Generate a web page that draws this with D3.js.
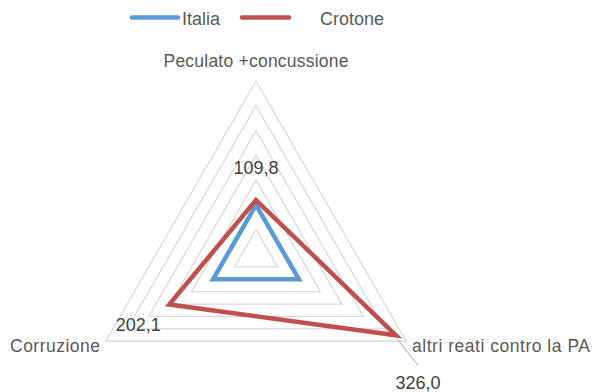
<!DOCTYPE html>
<html>
<head>
<meta charset="utf-8">
<script src="https://cdn.jsdelivr.net/npm/d3@7/dist/d3.min.js"></script>
<style>
  html, body { margin: 0; padding: 0; background: #fff; }
  svg { display: block; font-family: "Liberation Sans", Arial, sans-serif; }
</style>
</head>
<body>
<svg id="chart" width="593" height="392"></svg>
<script>
// Reati contro la PA: indice (Italia = 100) vs Crotone
const categories = ["Peculato +concussione", "altri reati contro la PA", "Corruzione"];
const seriesNames = ["Italia", "Crotone"];
const italia = [100, 100, 100];
const crotone = [109.8, 326.0, 202.1];
const gridTicks = [50, 100, 150, 200, 250, 300, 350];

const colors = { Italia: "#5b9bd5", Crotone: "#c0504d" };

const svg = d3.select("#chart");
const cx = 256, cy = 254.5, R = 173.5;

const r = d3.scaleLinear().domain([0, 350]).range([0, R]);
// first axis points straight up, the others follow clockwise
const angle = d3.scalePoint().domain(d3.range(categories.length)).range([0, 2 * Math.PI * (categories.length - 1) / categories.length]);

const pt = (i, v) => {
  const a = angle(i) - Math.PI / 2;
  return [cx + r(v) * Math.cos(a), cy + r(v) * Math.sin(a)];
};

const closedLine = d3.line().curve(d3.curveLinearClosed);

// grid rings
svg.append("g").selectAll("path").data(gridTicks).join("path")
  .attr("d", t => closedLine(categories.map((c, i) => pt(i, t))))
  .attr("fill", "none")
  .attr("stroke", "#d9d9d9")
  .attr("stroke-width", 1.3);

// series
const series = [
  { name: "Italia", values: italia },
  { name: "Crotone", values: crotone }
];
svg.append("g").selectAll("path").data(series).join("path")
  .attr("d", s => closedLine(s.values.map((v, i) => pt(i, v))))
  .attr("fill", "none")
  .attr("stroke", s => colors[s.name])
  .attr("stroke-width", 4.5)
  .attr("stroke-linejoin", "miter");

// category labels
const catPos = [
  { x: 256, y: 67, anchor: "middle", w: 185 },
  { x: 412, y: 352, anchor: "start", w: 178 },
  { x: 100, y: 352, anchor: "end", w: 90 }
];
svg.append("g").selectAll("text").data(categories).join("text")
  .attr("x", (d, i) => catPos[i].x)
  .attr("y", (d, i) => catPos[i].y)
  .attr("text-anchor", (d, i) => catPos[i].anchor)
  .attr("font-size", 17.5)
  .attr("textLength", (d, i) => catPos[i].w)
  .attr("lengthAdjust", "spacing")
  .attr("fill", "#595959")
  .text(d => d);

// data labels for Crotone
const fmt = v => d3.format(".1f")(v).replace(".", ",");
const labelOffsets = [
  { dx: 0, dy: -26 },
  { dx: 22, dy: 54 },
  { dx: -31, dy: 26 }
];
const leader = pt(1, crotone[1]);
svg.append("line")
  .attr("x1", leader[0]).attr("y1", leader[1] + 2)
  .attr("x2", leader[0] + 22).attr("y2", leader[1] + 30)
  .attr("stroke", "#a6a6a6").attr("stroke-width", 1);

svg.append("g").selectAll("text").data(crotone).join("text")
  .attr("x", (v, i) => pt(i, v)[0] + labelOffsets[i].dx)
  .attr("y", (v, i) => pt(i, v)[1] + labelOffsets[i].dy)
  .attr("text-anchor", "middle")
  .attr("font-size", 18)
  .attr("fill", "#404040")
  .text(v => fmt(v));

// legend
const legendItems = [
  { name: "Italia", x1: 132, x2: 178, tx: 182 },
  { name: "Crotone", x1: 242, x2: 289, tx: 320 }
];
const lg = svg.append("g");
lg.selectAll("line").data(legendItems).join("line")
  .attr("x1", d => d.x1).attr("x2", d => d.x2)
  .attr("y1", 17.5).attr("y2", 17.5)
  .attr("stroke", d => colors[d.name])
  .attr("stroke-width", 4.5)
  .attr("stroke-linecap", "round");
lg.selectAll("text").data(legendItems).join("text")
  .attr("x", d => d.tx).attr("y", 25)
  .attr("font-size", 18)
  .attr("fill", "#595959")
  .text(d => d.name);
</script>
</body>
</html>
